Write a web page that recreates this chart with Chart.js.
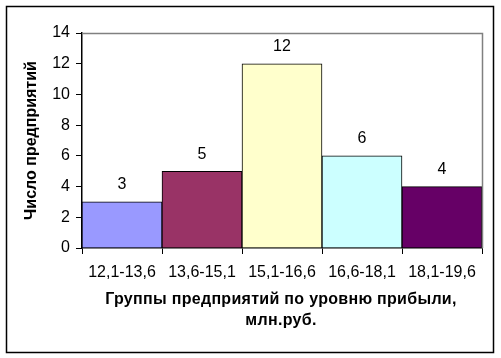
<!DOCTYPE html>
<html>
<head>
<meta charset="utf-8">
<script src="https://cdn.jsdelivr.net/npm/chart.js@4/dist/chart.umd.min.js"></script>
<style>
html,body{margin:0;padding:0;background:#fff;}
#wrap{width:501px;height:358px;position:relative;}
</style>
</head>
<body>
<div id="wrap"><canvas id="c" width="501" height="358"></canvas></div>
<script>
const categories = ['12,1-13,6','13,6-15,1','15,1-16,6','16,6-18,1','18,1-19,6'];
const counts = [3, 5, 12, 6, 4];
const barColors = ['#9999FF','#993366','#FFFFCC','#CCFFFF','#660066'];
const yTicks = [0,2,4,6,8,10,12,14];
const xTitle = ['Группы предприятий по уровню прибыли,','млн.руб.'];
const yTitle = 'Число предприятий';

const FONT = '"Liberation Sans", Arial, sans-serif';

const decor = {
  id:'decor',
  beforeDraw(chart){
    const ctx = chart.ctx;
    ctx.save();
    ctx.fillStyle='#fff';
    ctx.fillRect(0,0,chart.width,chart.height);
    ctx.restore();
  },
  afterDraw(chart){
    const ctx = chart.ctx, a = chart.chartArea;
    ctx.save();
    // outer frame
    ctx.strokeStyle='#000'; ctx.lineWidth=1.5;
    ctx.strokeRect(6.5,6.5,487,346);
    // plot frame top/right (gray)
    ctx.strokeStyle='#808080'; ctx.lineWidth=1.5;
    ctx.beginPath();
    ctx.moveTo(a.left, a.top+0.5); ctx.lineTo(a.right+0.5, a.top+0.5); ctx.lineTo(a.right+0.5, a.bottom);
    ctx.stroke();
    // titles
    ctx.fillStyle='#000';
    ctx.font='bold 16px '+FONT;
    ctx.textAlign='center'; ctx.textBaseline='middle';
    try { ctx.letterSpacing='0.3px'; } catch(e) {}
    ctx.fillText(xTitle[0], 281, 300);
    ctx.fillText(xTitle[1], 281, 321);
    try { ctx.letterSpacing='0px'; } catch(e) {}
    ctx.translate(32,(a.top+a.bottom)/2);
    ctx.rotate(-Math.PI/2);
    ctx.fillText(yTitle,0,0);
    ctx.restore();
  },
  afterDatasetsDraw(chart){
    const ctx = chart.ctx;
    const meta = chart.getDatasetMeta(0);
    ctx.save();
    ctx.fillStyle='#000';
    ctx.font='16px '+FONT;
    ctx.textAlign='center'; ctx.textBaseline='middle';
    meta.data.forEach((bar,i)=>{
      ctx.fillText(String(counts[i]), bar.x, bar.y-17);
    });
    ctx.restore();
  }
};

new Chart(document.getElementById('c'),{
  type:'bar',
  data:{
    labels:categories,
    datasets:[{
      data:counts,
      backgroundColor:barColors,
      borderColor:'#000',
      borderWidth:1,
      barPercentage:1,
      categoryPercentage:1
    }]
  },
  options:{
    responsive:false,
    animation:false,
    devicePixelRatio:1,
    layout:{padding:{left:0,right:19,top:33,bottom:0}},
    plugins:{legend:{display:false},tooltip:{enabled:false},title:{display:false}},
    scales:{
      x:{
        offset:true,
        grid:{display:true,drawOnChartArea:false,drawTicks:true,tickLength:6,color:'#000',offset:true,lineWidth:1},
        border:{display:true,color:'#000',width:1.5},
        ticks:{color:'#000',font:{family:FONT,size:16},padding:9,maxRotation:0,autoSkip:false},
        afterFit(s){ s.height = 110; }
      },
      y:{
        min:0,max:14,
        afterBuildTicks(s){ s.ticks = yTicks.map(v=>({value:v})); },
        grid:{display:true,drawOnChartArea:false,drawTicks:true,tickLength:6,color:'#000',lineWidth:1},
        border:{display:true,color:'#000',width:1.5},
        ticks:{color:'#000',font:{family:FONT,size:16},padding:6},
        afterFit(s){ s.width = 82; }
      }
    }
  },
  plugins:[decor]
});
</script>
</body>
</html>
